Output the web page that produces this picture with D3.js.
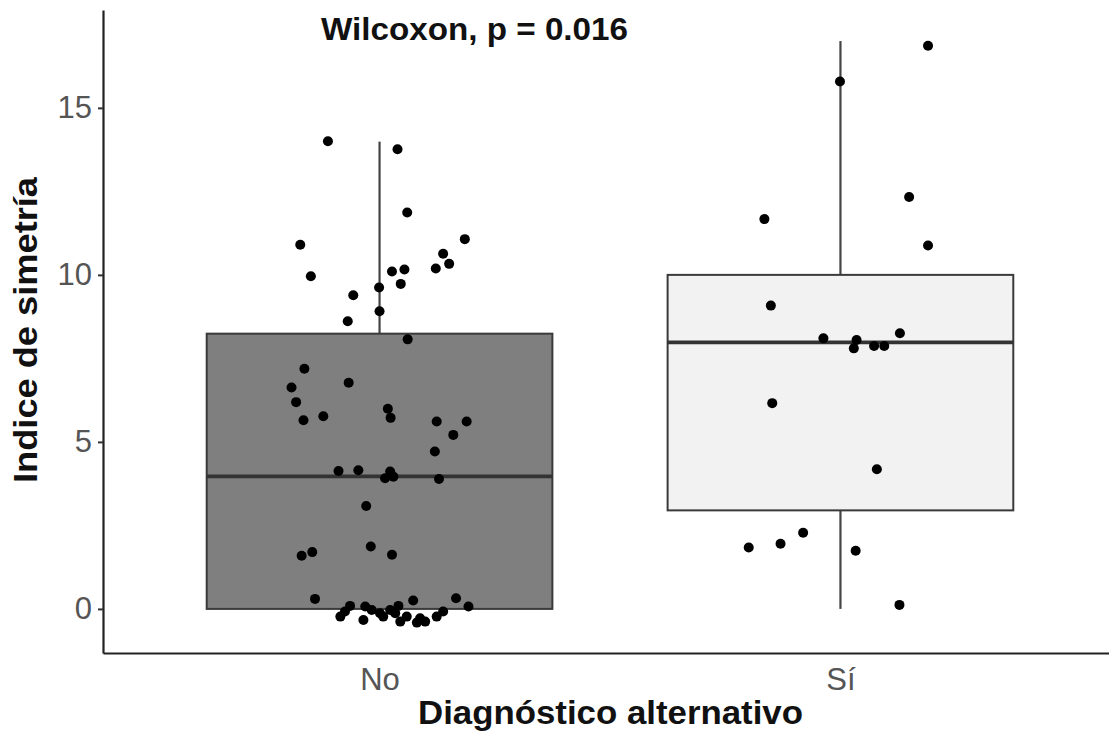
<!DOCTYPE html>
<html>
<head>
<meta charset="utf-8">
<script src="https://cdn.jsdelivr.net/npm/d3@7/dist/d3.min.js"></script>
<style>
  html, body { margin: 0; padding: 0; background: #fff; }
  svg { display: block; font-family: "Liberation Sans", Arial, Helvetica, sans-serif; }
</style>
</head>
<body>
<svg id="chart" width="1109" height="740"></svg>
<script>
// ---------- data ----------
const categories = ["No", "Sí"];
const yTicks = [0, 5, 10, 15];
const titleText = "Wilcoxon, p = 0.016";
const xTitle = "Diagnóstico alternativo";
const yTitle = "Indice de simetría";

// box statistics: [min, q1, median, q3, max]
const boxNo = [0, 0, 3.97, 8.24, 13.99];
const boxSi = [0, 2.95, 7.98, 10.0, 17.0];

// jittered points: values and horizontal jitter (fraction of category step)
const valuesNo = [14.0, 13.76, 11.87, 10.9, 11.07, 9.96, 10.63, 10.33, 10.19, 10.16,
  10.1, 9.73, 9.39, 9.62, 8.61, 8.91, 8.07, 7.19, 6.63, 6.77, 6.19, 5.65, 5.77, 5.99,
  5.72, 5.61, 5.61, 5.21, 4.71, 4.13, 4.15, 4.11, 3.91, 3.96, 3.89, 3.08, 1.59, 1.70,
  1.87, 1.62, 0.30,
  -0.23, -0.08, 0.09, -0.33, 0.07, -0.03, -0.13, -0.23, -0.03, -0.13, 0.09, -0.38,
  -0.23, 0.25, -0.41, -0.28, -0.38, -0.23, -0.08, 0.32, 0.07];
const jitterNo = [-0.112, 0.039, 0.060, -0.172, 0.185, -0.149, 0.138, 0.151, 0.122, 0.054,
  0.027, 0.046, -0.057, -0.001, -0.069, 0.000, 0.061, -0.163, -0.191, -0.067, -0.181,
  -0.165, -0.122, 0.018, 0.024, 0.124, 0.189, 0.160, 0.120, -0.089, -0.046, 0.023,
  0.012, 0.030, 0.129, -0.029, -0.169, -0.146, -0.019, 0.027, -0.140,
  -0.085, -0.075, -0.064, -0.035, -0.031, -0.017, 0.001, 0.008, 0.023, 0.034, 0.041,
  0.045, 0.059, 0.073, 0.081, 0.088, 0.099, 0.124, 0.138, 0.166, 0.193];

const valuesSi = [16.86, 15.79, 12.33, 11.67, 10.88, 9.08, 8.25, 8.1, 8.05, 7.8,
  7.87, 7.87, 6.16, 4.18, 2.28, 1.95, 1.84, 1.74, 0.12];
const jitterSi = [0.190, -0.001, 0.149, -0.165, 0.190, -0.151, 0.129, -0.037, 0.035, 0.029,
  0.073, 0.095, -0.148, 0.079, -0.081, -0.130, -0.199, 0.033, 0.128];

const boxFills = ["#7f7f7f", "#f2f2f2"];

// ---------- layout ----------
const svg = d3.select("#chart");
const plotLeft = 103, plotRight = 1117, plotTop = 10, plotBottom = 653;

const x = d3.scalePoint().domain(categories).range([plotLeft, plotRight]).padding(0.6);
const y = d3.scaleLinear().domain([-1.32, 17.93]).range([plotBottom, plotTop]);
const step = x.step();
const boxW = step * 0.75;

const groups = [
  { cat: "No", box: boxNo, values: valuesNo, jitter: jitterNo, fill: boxFills[0] },
  { cat: "Sí", box: boxSi, values: valuesSi, jitter: jitterSi, fill: boxFills[1] }
];

const gBox = svg.append("g");
groups.forEach(g => {
  const cx = x(g.cat);
  const [mn, q1, med, q3, mx] = g.box;
  if (mx > q3) gBox.append("line").attr("x1", cx).attr("x2", cx)
    .attr("y1", y(q3)).attr("y2", y(mx)).attr("stroke", "#444").attr("stroke-width", 2.2);
  if (q1 > mn) gBox.append("line").attr("x1", cx).attr("x2", cx)
    .attr("y1", y(q1)).attr("y2", y(mn)).attr("stroke", "#444").attr("stroke-width", 2.2);
  gBox.append("rect").attr("x", cx - boxW / 2).attr("width", boxW)
    .attr("y", y(q3)).attr("height", y(q1) - y(q3))
    .attr("fill", g.fill).attr("stroke", "#3a3a3a").attr("stroke-width", 2);
  gBox.append("line").attr("x1", cx - boxW / 2).attr("x2", cx + boxW / 2)
    .attr("y1", y(med)).attr("y2", y(med)).attr("stroke", "#333").attr("stroke-width", 3.8);
});

// points
const gPts = svg.append("g");
groups.forEach(g => {
  gPts.selectAll(null).data(g.values.map((v, i) => ({ v, j: g.jitter[i] })))
    .enter().append("circle")
    .attr("cx", d => x(g.cat) + d.j * step)
    .attr("cy", d => y(d.v))
    .attr("r", 5)
    .attr("fill", "#000");
});

// axes
const yAxis = svg.append("g").attr("transform", `translate(${plotLeft},0)`)
  .call(d3.axisLeft(y).tickValues(yTicks).tickSize(5).tickSizeOuter(0).tickPadding(6));
yAxis.select(".domain").attr("stroke", "#222").attr("stroke-width", 2.2);
yAxis.selectAll(".tick line").attr("stroke", "#333").attr("stroke-width", 2);
yAxis.selectAll(".tick text").attr("font-size", 31).attr("fill", "#555")
  .attr("font-family", "Liberation Sans, Arial, sans-serif");

const xAxis = svg.append("g").attr("transform", `translate(0,${plotBottom})`)
  .call(d3.axisBottom(x).tickSize(0).tickSizeOuter(0).tickPadding(15));
xAxis.select(".domain").attr("stroke", "#222").attr("stroke-width", 2.2);
xAxis.selectAll(".tick text").attr("font-size", 31).attr("fill", "#555")
  .attr("font-family", "Liberation Sans, Arial, sans-serif");

// titles
svg.append("text").attr("x", 321).attr("y", 39.5)
  .attr("font-size", 30.5).attr("font-weight", "bold").attr("fill", "#111")
  .attr("textLength", 307).attr("lengthAdjust", "spacingAndGlyphs")
  .text(titleText);

svg.append("text").attr("x", 610.5).attr("y", 723.5).attr("text-anchor", "middle")
  .attr("font-size", 32.5).attr("font-weight", "bold").attr("fill", "#111")
  .attr("textLength", 385).attr("lengthAdjust", "spacingAndGlyphs")
  .text(xTitle);

svg.append("text").attr("transform", "translate(37,330) rotate(-90)")
  .attr("text-anchor", "middle")
  .attr("font-size", 32.5).attr("font-weight", "bold").attr("fill", "#111")
  .attr("textLength", 306).attr("lengthAdjust", "spacingAndGlyphs")
  .text(yTitle);
</script>
</body>
</html>
